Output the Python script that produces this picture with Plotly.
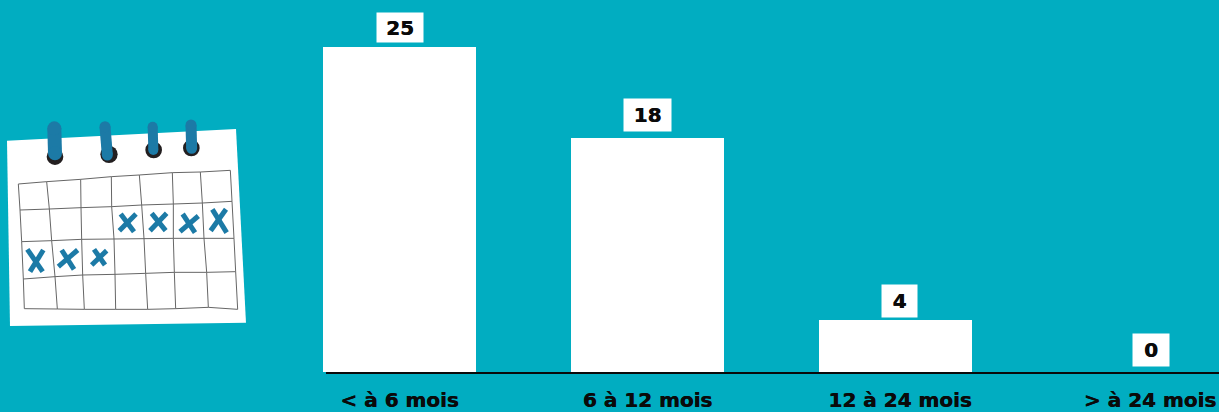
import plotly.graph_objects as go

W, H = 1219, 412
categories = ["< à 6 mois", "6 à 12 mois", "12 à 24 mois", "> à 24 mois"]
values = [25, 18, 4, 0]
BG = "#01ADC1"
BLUE = "#1C7AA6"
FONT = "DejaVu Sans"

# plot-area geometry
BASE = 372
UNIT = 13
C0 = 399.5
STEP = 248

# illustration geometry, read in a 3x crop whose origin is (0, 110)
paper_outline = [(21, 92), (708, 57), (738, 638), (30, 648)]
grid_rows = [
    [(55, 222), (140, 215), (242, 208), (334, 200), (418, 195), (517, 188), (601, 186), (691, 181)],
    [(60, 300), (148, 297), (243, 293), (335, 290), (425, 285), (520, 282), (607, 279), (696, 274)],
    [(65, 395), (155, 392), (245, 388), (342, 387), (432, 386), (520, 385), (612, 385), (702, 385)],
    [(70, 507), (165, 500), (248, 495), (345, 493), (437, 490), (523, 487), (620, 487), (707, 485)],
    [(73, 596), (172, 597), (253, 598), (347, 598), (443, 598), (527, 596), (625, 592), (713, 598)],
]
crosses = [
    ((358, 362), (408, 312), (362, 312), (402, 365)),
    ((450, 362), (500, 310), (455, 310), (497, 362)),
    ((540, 365), (595, 318), (548, 312), (585, 368)),
    ((632, 362), (678, 298), (637, 298), (680, 368)),
    ((90, 485), (130, 420), (82, 418), (128, 485)),
    ((175, 470), (233, 420), (185, 420), (222, 478)),
    ((275, 465), (320, 422), (282, 418), (315, 465)),
]
rings = [(165, 140, 25), (327, 133, 26), (461, 120, 25), (574, 114, 25)]
spirals = [((163, 55), (165, 130), 14), ((315, 50), (322, 135), 11), ((458, 50), (460, 120), 10), ((573, 45), (575, 115), 11)]


def px(p):
    # paper coordinates are relative to the plot area, which ends at y = BASE
    return p[0] / 3 / W, 1 - (p[1] / 3 + 110) / BASE


def path(points, close=False):
    pts = [px(p) for p in points]
    return "M " + " L ".join(f"{x:.5f},{y:.5f}" for x, y in pts) + (" Z" if close else "")


shapes = [dict(type="path", xref="paper", yref="paper", path=path(paper_outline, True),
               fillcolor="white", line=dict(width=0), layer="above")]
for row in grid_rows:
    shapes.append(dict(type="path", xref="paper", yref="paper", path=path(row),
                       line=dict(color="#666666", width=1), layer="above"))
for col in range(len(grid_rows[0])):
    shapes.append(dict(type="path", xref="paper", yref="paper", path=path([r[col] for r in grid_rows]),
                       line=dict(color="#666666", width=1), layer="above"))
for a, b, c, d in crosses:
    for s, e in ((a, b), (c, d)):
        shapes.append(dict(type="path", xref="paper", yref="paper", path=path([s, e]),
                           line=dict(color=BLUE, width=5), layer="above"))
for cx, cy, r in rings:
    x0, y0 = px((cx - r, cy + r))
    x1, y1 = px((cx + r, cy - r))
    shapes.append(dict(type="circle", xref="paper", yref="paper", x0=x0, y0=y0, x1=x1, y1=y1,
                       fillcolor="#231F20", line=dict(width=0), layer="above"))
for s, e, w in spirals:
    shapes.append(dict(type="path", xref="paper", yref="paper", path=path([s, e]),
                       line=dict(color=BLUE, width=w), layer="above"))
    for (sx, sy) in (s, e):
        r = w * 3 / 2
        a0, b0 = px((sx - r, sy + r))
        a1, b1 = px((sx + r, sy - r))
        shapes.append(dict(type="circle", xref="paper", yref="paper", x0=a0, y0=b0, x1=a1, y1=b1,
                           fillcolor=BLUE, line=dict(width=0), layer="above"))

# axis baseline, just under the bars
shapes.append(dict(type="line", xref="paper", yref="paper", x0=326 / W, x1=1, y0=-1 / BASE, y1=-1 / BASE,
                   line=dict(color="#0A0A0A", width=2), layer="above"))

# value boxes: width, height, gap above bar, horizontal offset
box_w = [46, 47, 35, 36]
box_h = [29, 32, 32, 32]
box_gap = [4, 6, 2, 5]
box_dx = [0, 0, 4, 7]
annotations = [
    dict(x=i, y=v, xref="x", yref="y", text=f"<b>{v}</b>", showarrow=False,
         yanchor="bottom", xanchor="center", yshift=box_gap[i], xshift=box_dx[i],
         width=box_w[i], height=box_h[i],
         bgcolor="white", borderpad=0, align="center", valign="middle",
         font=dict(family=FONT, size=20, color="#0A0A0A", shadow="0.4px 0 0 #0A0A0A"))
    for i, v in enumerate(values)
]

label_dx = [0, 0, 4.5, 6.5]

fig = go.Figure(go.Bar(x=list(range(len(categories))), y=values, width=153 / STEP,
                       marker=dict(color="white", line=dict(width=0)), hoverinfo="skip"))
fig.update_layout(
    width=W, height=H, autosize=False,
    margin=dict(l=0, r=0, t=0, b=H - BASE, pad=0),
    paper_bgcolor=BG, plot_bgcolor=BG,
    showlegend=False, shapes=shapes, annotations=annotations,
    xaxis=dict(range=[-C0 / STEP, (W - C0) / STEP], tickmode="array", automargin=False,
               tickvals=[i + d / STEP for i, d in enumerate(label_dx)],
               ticktext=[f"<b>{c}</b>" for c in categories],
               showgrid=False, zeroline=False, showline=False, ticks="outside",
               ticklen=10, tickcolor="rgba(0,0,0,0)",
               tickfont=dict(family=FONT, size=20, color="#0A0A0A", shadow="0.4px 0 0 #0A0A0A")),
    yaxis=dict(range=[0, BASE / UNIT], visible=False, automargin=False),
)
fig.write_html("out.html", config=dict(displayModeBar=False),
               post_script="document.body.style.margin='0';document.documentElement.style.overflow='hidden';")
